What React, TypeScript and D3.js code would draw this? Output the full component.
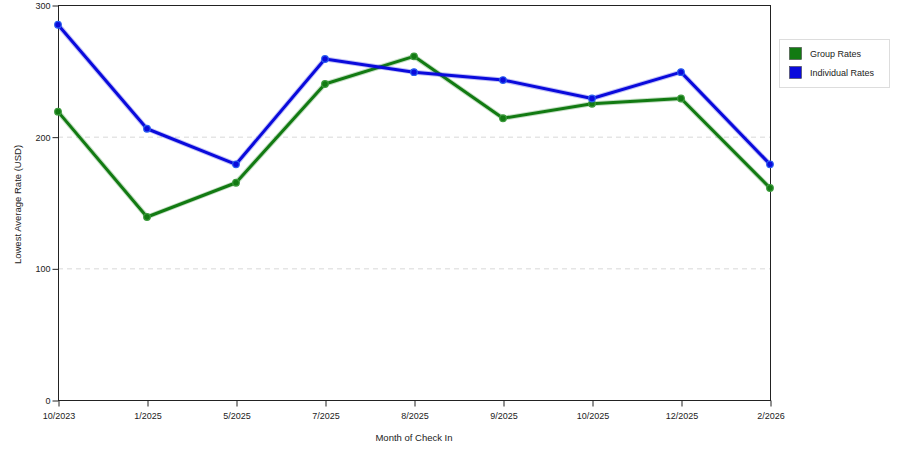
import React, { useEffect, useRef } from "react";
import * as d3 from "d3";

const categories = ["10/2023", "1/2025", "5/2025", "7/2025", "8/2025", "9/2025", "10/2025", "12/2025", "2/2026"];
const groupRates = [219, 139, 165, 240, 261, 214, 225, 229, 161];
const individualRates = [285, 206, 179, 259, 249, 243, 229, 249, 179];
const yTicks = [0, 100, 200, 300];
const seriesNames = ["Group Rates", "Individual Rates"];
const seriesColors = ["#127a12", "#0a0adc"];
const markerColors = ["#3c9a3c", "#2a5ef0"];

export default function App() {
  const ref = useRef<SVGSVGElement>(null);
  useEffect(() => {
    const svg = d3.select(ref.current);
    svg.selectAll("*").remove();
    const left = 58, right = 770, top = 5, bottom = 400;
    const font = "'Liberation Sans', Arial, sans-serif";
    const x = d3.scalePoint<string>().domain(categories).range([left, right]);
    const y = d3.scaleLinear().domain([0, 300]).range([bottom, top]);

    // grid
    svg.append("g").selectAll("line").data(yTicks.filter((t) => t > 0 && t < 300)).join("line")
      .attr("x1", left).attr("x2", right)
      .attr("y1", (d) => y(d) + 0.5).attr("y2", (d) => y(d) + 0.5)
      .attr("stroke", "#d8d8d8").attr("stroke-dasharray", "5,4");

    // frame
    svg.append("rect").attr("x", left + 0.5).attr("y", top + 0.5)
      .attr("width", right - left).attr("height", bottom - top)
      .attr("fill", "none").attr("stroke", "#222");

    // y axis
    const ya = svg.append("g").attr("transform", `translate(${left + 0.5},0.5)`)
      .call(d3.axisLeft(y).tickValues(yTicks).tickSize(6).tickPadding(2));
    ya.select(".domain").remove();
    ya.selectAll("line").attr("stroke", "#222");
    ya.selectAll("text").attr("font-family", font).attr("font-size", 9).attr("fill", "#222");

    // x axis
    const xa = svg.append("g").attr("transform", `translate(0.5,${bottom + 0.5})`)
      .call(d3.axisBottom(x).tickSize(6).tickPadding(6));
    xa.select(".domain").remove();
    xa.selectAll("line").attr("stroke", "#222");
    xa.selectAll("text").attr("font-family", font).attr("font-size", 9).attr("fill", "#222");

    // titles
    svg.append("text").attr("x", 414).attr("y", 441).attr("text-anchor", "middle")
      .attr("font-family", font).attr("font-size", 9.5).attr("fill", "#222").text("Month of Check In");
    svg.append("text").attr("transform", `translate(21,${(top + bottom) / 2 + 2}) rotate(-90)`)
      .attr("text-anchor", "middle").attr("font-family", font).attr("font-size", 9.5).attr("fill", "#222")
      .text("Lowest Average Rate (USD)");

    const data = [groupRates, individualRates];
    const line = d3.line<number>().x((_, i) => x(categories[i]) as number).y((d) => y(d));
    data.forEach((vals, si) => {
      svg.append("path").datum(vals).attr("d", line).attr("fill", "none")
        .attr("stroke", seriesColors[si]).attr("stroke-opacity", 0.25).attr("stroke-width", 5)
        .attr("stroke-linejoin", "round");
      svg.append("path").datum(vals).attr("d", line).attr("fill", "none")
        .attr("stroke", seriesColors[si]).attr("stroke-width", 3).attr("stroke-linejoin", "round");
    });
    data.forEach((vals, si) => {
      svg.append("g").selectAll("circle").data(vals).join("circle")
        .attr("cx", (_, i) => x(categories[i]) as number).attr("cy", (d) => y(d)).attr("r", 3.3)
        .attr("fill", seriesColors[si]).attr("stroke", markerColors[si]).attr("stroke-width", 1.2);
    });

    // legend
    const lg = svg.append("g");
    lg.append("rect").attr("x", 779.5).attr("y", 39.5).attr("width", 110).attr("height", 48)
      .attr("fill", "white").attr("stroke", "#ddd");
    seriesNames.forEach((n, i) => {
      lg.append("rect").attr("x", 789.5).attr("y", 47.5 + i * 19).attr("width", 12).attr("height", 12)
        .attr("fill", seriesColors[i]).attr("stroke", "#444").attr("stroke-width", 0.6);
      lg.append("text").attr("x", 810).attr("y", 57 + i * 19).attr("font-family", font)
        .attr("font-size", 9).attr("fill", "#222").text(n);
    });
  }, []);
  return (
    <svg ref={ref} width={900} height={450}
      style={{ position: "absolute", left: 0, top: 0, background: "white" }} />
  );
}
